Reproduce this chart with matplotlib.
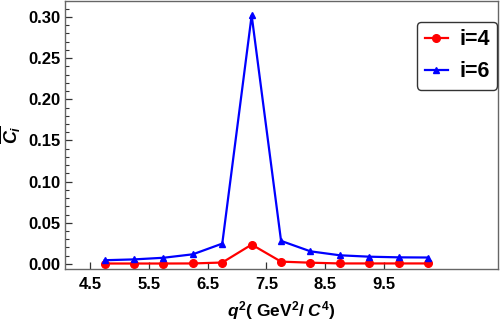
import numpy as np
import matplotlib
matplotlib.use("Agg")
import matplotlib.pyplot as plt
from matplotlib.ticker import MultipleLocator, FixedLocator

# datos
q2 = [4.75, 5.25, 5.75, 6.25, 6.75, 7.25, 7.75, 8.25, 8.75, 9.25, 9.75, 10.25]
c_i4 = [0.0005, 0.0005, 0.0005, 0.0006, 0.0017, 0.0235, 0.0028, 0.0015,
        0.0006, 0.0006, 0.0006, 0.0006]
c_i6 = [0.0045, 0.0055, 0.0075, 0.0117, 0.0247, 0.302, 0.028, 0.0153,
        0.0105, 0.0088, 0.0080, 0.0078]
xticks = [4.5, 5.5, 6.5, 7.5, 8.5, 9.5]

plt.rcParams['font.family'] = 'Liberation Sans'
plt.rcParams['font.weight'] = 'bold'
plt.rcParams['mathtext.fontset'] = 'custom'
plt.rcParams['mathtext.rm'] = 'Liberation Sans:bold'
plt.rcParams['mathtext.it'] = 'Liberation Sans:bold:italic'
plt.rcParams['mathtext.bf'] = 'Liberation Sans:bold'

fig = plt.figure(figsize=(5, 3.22), dpi=100)
ax = fig.add_axes([0.13, 0.165, 0.866, 0.832])

ax.plot(q2, c_i4, color='red', linewidth=1.6, marker='o', markersize=5.5,
        label='i=4')
ax.plot(q2, c_i6, color='blue', linewidth=1.6, marker='^', markersize=5,
        label='i=6')

ax.set_xlim(4.075, 11.44)
ax.set_ylim(-0.006, 0.3195)
ax.xaxis.set_major_locator(FixedLocator(xticks))
ax.set_xticklabels([f'{t:.1f}' for t in xticks])
ax.yaxis.set_major_locator(MultipleLocator(0.05))
ax.yaxis.set_minor_locator(MultipleLocator(0.01))
ax.yaxis.set_major_formatter(matplotlib.ticker.FormatStrFormatter('%.2f'))

ax.tick_params(axis='both', which='both', direction='in', colors='#333333',
               labelcolor='black', labelsize=12, top=False, right=False)
ax.tick_params(axis='both', which='major', length=5, width=0.9)
ax.tick_params(axis='y', which='minor', length=3, width=0.8)
ax.tick_params(axis='x', which='major', pad=6)
for s in ax.spines.values():
    s.set_color('#666666')
    s.set_linewidth(1.0)

ax.set_xlabel(r'$q^2$( GeV$^2$/ $C^4$)', fontsize=12.5, fontweight='bold',
              labelpad=5)
ax.set_ylabel(r'$\overline{C_i}$', fontsize=13, labelpad=4)

leg = ax.legend(loc='upper right', bbox_to_anchor=(0.998, 0.922),
                borderaxespad=0, fontsize=15.5, handlelength=1.1,
                fancybox=True, framealpha=1, borderpad=0.35,
                labelspacing=0.5, handletextpad=0.5)
leg.get_frame().set_edgecolor('#333333')
leg.get_frame().set_linewidth(1.0)

fig.savefig('out.png', dpi=100)
